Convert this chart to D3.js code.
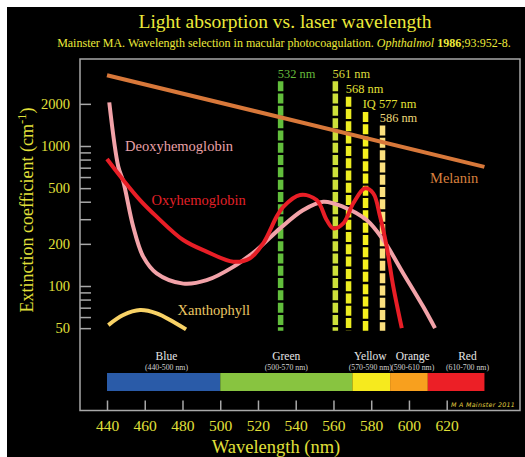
<!DOCTYPE html>
<html><head><meta charset="utf-8">
<script src="https://cdn.jsdelivr.net/npm/d3@7"></script>
<style>body{margin:0;background:#fff}svg{display:block}</style>
</head><body><svg id="c" width="525" height="457"></svg>
<script>
// ---- data ----
const xTicks = [440,460,480,500,520,540,560,580,600,620];
const yTicks = [50,100,200,500,1000,2000];
const yMinorTicks = [60,70,80,90,300,400,600,700,800,900];

const melanin = [[440,3200],[640,710]];
const deoxy = [[441.2,2050],[446,711],[448.6,560],[453.9,265],[459.2,162],[466.3,123],[480.4,104],[492.8,110],[506.9,137],[519.3,181],[531.7,258],[544,349],[554.6,400],[565.2,368],[577.6,296],[586.4,213],[597,123],[607.6,71],[613.8,50]];
const oxy = [[440,808],[448.6,572],[457.5,411],[466.3,313],[480.4,213],[492.8,176],[506.9,149],[515.8,158],[522.8,202],[529.9,313],[533.4,368],[542.3,447],[551.1,411],[556.4,296],[559.9,258],[565.2,280],[570.5,390],[576.7,499],[581.1,459],[584.7,313],[588.2,191],[591.7,99],[596.2,50]];
const xantho = [[440.7,52.6],[448.6,62],[457.5,67.3],[466.3,63.8],[475.1,55.6],[481.9,49]];

const laserNm = [532,561,568,577,586];
const laserLabels = ["532 nm","561 nm","568 nm","IQ 577 nm","586 nm"];
const laserTop = [2900,2900,2250,1750,1400];
const laserBottom = 48;
const laserColors = ["#62be3c","#cde03a","#ecec22","#f4f01e","#fbe07e"];
const laserTextColors = ["#66bb3c","#dcdc3c","#e4e036","#e4e036","#ecd878"];

const bandNames = ["Blue","Green","Yellow","Orange","Red"];
const bandRanges = ["(440-500 nm)","(500-570 nm)","(570-590 nm)","(590-610 nm)","(610-700 nm)"];
const bandStart = [440,500,570,590,610];
const bandEnd = [500,570,590,610,640];
const bandLabelNm = [471.5,535,579.5,602,631];
const bandColors = ["#2a5ba8","#88c440","#f6ea1e","#f8a01e","#ec1f26"];

// ---- drawing ----
const svg = d3.select("#c");
const serif = "'Liberation Serif','Times New Roman',serif";
const yellow = "#e2e03a";

svg.append("rect").attr("x",7).attr("y",7).attr("width",518).attr("height",450).attr("fill","#000");

const x = d3.scaleLinear().domain([440,620]).range([107,446.7]);
const y = d3.scaleLog().domain([100,1000]).range([286,146]);

// title
svg.append("text").attr("x",285).attr("y",27.5).attr("text-anchor","middle")
  .attr("font-family",serif).attr("font-size",19.5).attr("fill","#ecea3a")
  .text("Light absorption vs. laser wavelength");
const sub = svg.append("text").attr("x",284).attr("y",47).attr("text-anchor","middle")
  .attr("font-family",serif).attr("font-size",12).attr("fill","#ecea3a");
sub.append("tspan").text("Mainster MA. Wavelength selection in macular photocoagulation. ");
sub.append("tspan").attr("font-style","italic").text("Ophthalmol");
sub.append("tspan").text(" ");
sub.append("tspan").attr("font-weight","bold").text("1986");
sub.append("tspan").text(";93:952-8.");

// frame
svg.append("rect").attr("x",80).attr("y",59).attr("width",440).attr("height",351.5)
  .attr("fill","none").attr("stroke","#a8a8a8").attr("stroke-width",1.5);

// y axis
const yAx = svg.append("g").attr("transform","translate(80,0)")
  .call(d3.axisLeft(y).tickValues(yTicks).tickFormat(d3.format("d")).tickSize(-11).tickPadding(10));
yAx.select(".domain").remove();
yAx.selectAll("line").attr("stroke","#a8a8a8").attr("stroke-width",1.5);
yAx.selectAll("text").attr("font-family",serif).attr("font-size",14.5).attr("fill",yellow);
const yMin = svg.append("g").attr("transform","translate(80,0)")
  .call(d3.axisLeft(y).tickValues(yMinorTicks).tickFormat("").tickSize(-11));
yMin.select(".domain").remove();
yMin.selectAll("line").attr("stroke","#a8a8a8").attr("stroke-width",1.5);

// y label
const yl = svg.append("text").attr("transform","translate(33,210) rotate(-90)")
  .attr("text-anchor","middle").attr("font-family",serif).attr("font-size",18).attr("fill",yellow);
yl.append("tspan").text("Extinction coefficient (cm");
yl.append("tspan").attr("font-size",12.5).attr("dy",-7).text("-1");
yl.append("tspan").attr("dy",7).text(")");

// x axis
const xAx = svg.append("g").attr("transform","translate(0,410.5)")
  .call(d3.axisBottom(x).tickValues(xTicks).tickFormat(d3.format("d")).tickSize(-10).tickPadding(9));
xAx.select(".domain").remove();
xAx.selectAll("line").attr("stroke","#a8a8a8").attr("stroke-width",1.5);
xAx.selectAll("text").attr("font-family",serif).attr("font-size",15.5).attr("fill",yellow);

svg.append("text").attr("x",276).attr("y",453).attr("text-anchor","middle")
  .attr("font-family",serif).attr("font-size",18.5).attr("fill",yellow).text("Wavelength (nm)");

// color band
svg.append("g").selectAll("rect").data(bandStart).join("rect")
  .attr("x",(d)=>x(d)).attr("width",(d,i)=>x(bandEnd[i])-x(d))
  .attr("y",373).attr("height",18).attr("fill",(d,i)=>bandColors[i]);
svg.append("g").selectAll("text").data(bandNames).join("text")
  .attr("x",(d,i)=>x(bandLabelNm[i])).attr("y",360).attr("text-anchor","middle")
  .attr("font-family",serif).attr("font-size",11.5).attr("fill","#e6e6e6").text(d=>d);
svg.append("g").selectAll("text").data(bandRanges).join("text")
  .attr("x",(d,i)=>x(bandLabelNm[i])).attr("y",369.5).attr("text-anchor","middle")
  .attr("font-family",serif).attr("font-size",7.8).attr("fill","#d0d0d0").text(d=>d);

svg.append("text").attr("x",451).attr("y",406.5).attr("font-family","'DejaVu Sans',sans-serif")
  .attr("font-style","italic").attr("font-size",6.3).attr("letter-spacing",0.3).attr("fill","#e0d040").text("M A Mainster 2011");

// laser bars
svg.append("g").selectAll("line").data(laserNm).join("line")
  .attr("x1",d=>x(d)).attr("x2",d=>x(d))
  .attr("y1",(d,i)=>y(laserTop[i])).attr("y2",y(laserBottom))
  .attr("stroke",(d,i)=>laserColors[i]).attr("stroke-width",5.5)
  .attr("stroke-dasharray","10,2.3");
svg.append("g").selectAll("text").data(laserLabels).join("text")
  .attr("x",(d,i)=>x(laserNm[i])-2.8).attr("y",(d,i)=>y(laserTop[i])-3.5)
  .attr("font-family",serif).attr("font-size",12.4).attr("fill",(d,i)=>laserTextColors[i]).text(d=>d);

// curves
const line = d3.line().x(d=>x(d[0])).y(d=>y(d[1])).curve(d3.curveCatmullRom.alpha(0.5));
const straight = d3.line().x(d=>x(d[0])).y(d=>y(d[1]));
svg.append("path").datum(melanin).attr("d",straight).attr("fill","none").attr("stroke","#d8783a").attr("stroke-width",4);
svg.append("path").datum(deoxy).attr("d",line).attr("fill","none").attr("stroke","#f2a2a8").attr("stroke-width",4);
svg.append("path").datum(oxy).attr("d",line).attr("fill","none").attr("stroke","#e81e26").attr("stroke-width",4);
svg.append("path").datum(xantho).attr("d",line).attr("fill","none").attr("stroke","#f8d266").attr("stroke-width",4);

// curve labels
const lab = (t,xx,yy,c)=>svg.append("text").attr("x",xx).attr("y",yy).attr("font-family",serif)
  .attr("font-size",14.5).attr("fill",c).text(t);
lab("Deoxyhemoglobin",125,151,"#eaa2a8");
lab("Oxyhemoglobin",151.5,205,"#e42028");
lab("Melanin",430,183,"#d8803e");
lab("Xanthophyll",177.5,315,"#ecc864");
</script></body></html>
